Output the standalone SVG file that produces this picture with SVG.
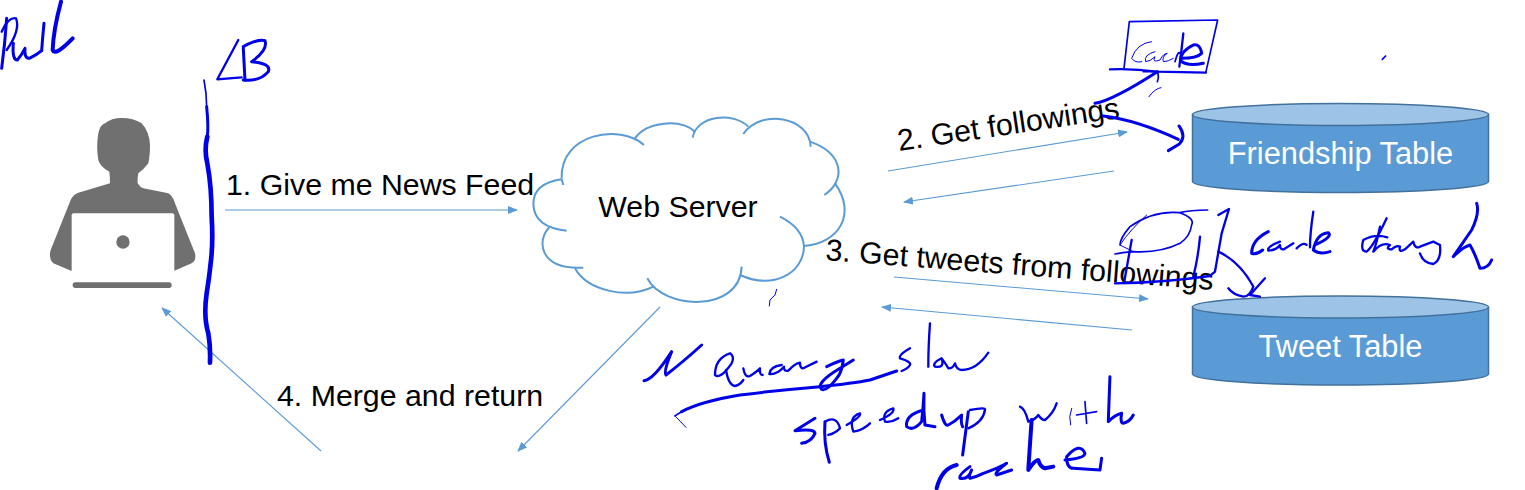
<svg xmlns="http://www.w3.org/2000/svg" width="1525" height="490" viewBox="0 0 1525 490">
<style>
text{font-family:"Liberation Sans",Arial,sans-serif;font-size:30.3px;fill:#000}
.w{fill:#fff;text-anchor:middle;font-size:30.800px}
.c{fill:none;stroke:#5B9BD5;stroke-width:1.1}
.cl{fill:none;stroke:#5B9BD5;stroke-width:6}
.body{fill:#5B9BD5;stroke:#41719C;stroke-width:1.5}
.top{fill:#9DC3E6;stroke:#41719C;stroke-width:1.5}
.h path{fill:none;stroke:#0000E8;stroke-linecap:round;stroke-linejoin:round}
.t1{stroke-width:3}.t2{stroke-width:5}.t3{stroke-width:7}.t4{stroke-width:9}.t5{stroke-width:12}
</style>
<defs>
<marker id="a" markerUnits="userSpaceOnUse" markerWidth="10" markerHeight="8" refX="9" refY="4" orient="auto"><path d="M0 0L10 4L0 8Z" fill="#5B9BD5"/></marker>
</defs>
<rect width="1525" height="490" fill="#fff"/>

<g id="user" transform="scale(.3333)">
<path fill="#707070" d="M365 354Q400 354 425 370Q448 395 450 435Q450 470 445 490Q430 510 415 520Q412 535 413 550Q420 562 430 565L505 580Q520 590 525 610L585 760Q590 780 575 790L523 812H213L160 790Q145 775 152 750L212 600Q218 585 235 578L330 550Q330 530 328 515Q300 500 295 480Q288 440 295 400Q300 375 315 370Q335 354 365 354Z"/>
<path fill="#fff" d="M215 816V646Q215 640 221 640H517Q523 640 523 646V816Z"/>
<circle cx="369" cy="726" r="20" fill="#707070"/>
<rect x="218" y="847" width="297" height="17" rx="8" fill="#707070"/>
</g>

<g id="web-server">
<g transform="translate(520,100) scale(.3333)">
<path class="cl" d="M130 255Q127 245 125 238Q40 250 40 312Q42 382 140 392"/>
<path class="cl" d="M88 382C50 420 55 510 190 503"/>
<path class="cl" d="M165 505C200 570 320 600 400 560"/>
<path class="cl" d="M382 535C430 630 660 640 665 500"/>
<path class="cl" d="M660 525C760 570 850 520 852 440C850 400 820 370 780 350"/>
<path class="cl" d="M850 438C960 430 1010 340 945 250"/>
<path class="cl" d="M913 285C980 240 970 160 870 125"/>
<path class="cl" d="M872 140C870 50 720 25 670 102"/>
<path class="cl" d="M685 80C640 35 530 45 518 113"/>
<path class="cl" d="M525 95C480 55 380 65 345 115"/>
<path class="cl" d="M372 135C300 70 120 100 125 235"/>
</g>
<text x="678" y="217" text-anchor="middle">Web Server</text>
</g>

<g id="friendship-table">
<path class="body" d="M1192.500 114.500V181.500C1192.500 187.500 1259 192.500 1340.500 192.500S1488.500 187.500 1488.500 181.500V114.500Z"/>
<ellipse class="top" cx="1340.500" cy="114.500" rx="148" ry="11"/>
<text class="w" x="1340.500" y="164">Friendship Table</text>
</g>

<g id="tweet-table">
<path class="body" d="M1192.500 307V374C1192.500 380 1259 385 1340.500 385S1488.500 380 1488.500 374V307Z"/>
<ellipse class="top" cx="1340.500" cy="307" rx="148" ry="11"/>
<text class="w" x="1340.500" y="357">Tweet Table</text>
</g>

<g id="connectors">
<path class="c" marker-end="url(#a)" d="M225 210H517"/>
<path class="c" marker-end="url(#a)" d="M888 171L1127 132"/>
<path class="c" marker-end="url(#a)" d="M1114 171L904 202"/>
<path class="c" marker-end="url(#a)" d="M894 277L1148 299"/>
<path class="c" marker-end="url(#a)" d="M1132 330L882 307"/>
<path class="c" marker-end="url(#a)" d="M660 307L518 451"/>
<path class="c" marker-end="url(#a)" d="M321 451L162 308"/>
</g>

<g id="labels">
<text x="226" y="195">1. Give me News Feed</text>
<text x="899" y="151" transform="rotate(-8.500 899 151)">2. Get followings</text>
<text x="825" y="260" transform="rotate(4.400 825 260)">3. Get tweets from followings</text>
<text x="277" y="406">4. Merge and return</text>
</g>

<g id="ink-left" class="h" transform="scale(.3333)">
<path class="t4" d="M20 55Q15 130 5 205"/>
<path class="t3" d="M5 95Q25 50 48 55Q62 90 20 150"/>
<path class="t4" d="M40 130Q36 180 52 180Q65 165 75 145Q72 175 88 175Q110 165 125 152"/>
<path class="t4" d="M132 70Q128 110 125 152"/>
<path class="t5" d="M183 5Q160 90 158 150Q165 170 218 115"/>
<path class="t3" d="M715 120L652 238L725 232"/>
<path class="t4" d="M730 145L735 240"/>
<path class="t4" d="M730 140Q775 115 795 122Q805 150 755 185Q815 190 805 215Q780 245 730 240"/>
<path class="t2" d="M612 240Q620 280 620 320"/>
<path class="t4" d="M620 320Q626 380 622 410"/>
<path class="t5" style="stroke-width:14" d="M622 410Q612 450 622 490Q635 560 635 650Q640 730 632 790Q628 830 620 880Q610 950 625 1000Q632 1040 630 1088"/>
</g>

<g id="ink-top" class="h" transform="translate(1080,0) scale(.3333)">
<path class="t2" d="M150 65L413 60L378 215"/>
<path class="t2" d="M148 65L132 205"/>
<path class="t3" d="M90 208Q160 205 230 215L378 218"/>
<path class="t1" d="M215 125Q170 130 155 175Q165 190 185 185"/>
<path class="t1" d="M225 155Q190 165 197 185Q210 185 225 170Q215 190 240 180Q250 160 262 160Q245 170 250 185Q265 185 280 175"/>
<path class="t3" d="M310 100Q305 150 298 200"/>
<path class="t2" d="M285 185Q295 150 300 160"/>
<path class="t4" d="M305 175Q350 175 365 160Q360 130 340 135Q300 155 302 182Q320 200 370 190"/>
<path class="t4" d="M45 310Q100 300 232 215"/>
<path class="t2" d="M190 215H232Q238 230 232 245"/>
<path class="t1" d="M207 290Q225 265 243 263"/>
<path class="t2" d="M907 178L917 168"/>
<path class="t4" d="M70 348Q170 360 295 418"/>
<path class="t4" d="M297 378Q320 410 298 432L265 452"/>
</g>

<g id="ink-through" class="h" transform="translate(1080,190) scale(.3333)">
<path class="t2" d="M383 60Q330 60 300 68Q345 85 335 105Q330 140 300 160Q240 190 160 185Q125 188 105 192"/>
<path class="t2" d="M300 68Q220 60 150 110Q120 145 120 165"/>
<path class="t1" d="M200 75Q150 120 120 165L160 185"/>
<path class="t3" d="M155 150L132 280H105Q250 278 390 258L405 245L425 130L447 57L415 75"/>
<path class="t3" d="M360 140Q355 200 340 260"/>
<path class="t3" d="M415 185Q480 215 520 290Q510 320 490 320Q460 315 445 295"/>
<path class="t3" d="M555 265L510 315L540 320"/>
<path class="t4" d="M565 125Q515 150 515 190Q530 195 548 180"/>
<path class="t3" d="M600 155Q560 170 565 182Q590 180 600 165Q600 180 612 178L640 160"/>
<path class="t3" d="M700 65Q690 130 690 172"/>
<path class="t3" d="M650 175Q670 155 680 165"/>
<path class="t4" d="M705 165Q760 140 745 128Q710 130 700 180Q720 195 750 185"/>
<path class="t3" d="M920 85Q880 170 860 185Q840 185 850 150Q885 130 922 142"/>
<path class="t3" d="M900 110Q890 160 880 185Q905 155 930 165Q915 178 935 178Q950 165 960 170Q955 190 975 178L1000 155Q1005 178 1020 170L1060 155L1080 165Q1085 210 1060 222Q1030 220 1020 190"/>
<path class="t4" d="M1190 40Q1200 70 1175 120L1120 200Q1150 170 1170 165Q1185 190 1200 235Q1225 235 1235 210"/>
</g>

<g id="ink-bottom" class="h" transform="translate(640,300) scale(.3333)">
<path class="t4" d="M12 242Q40 240 95 155Q70 215 78 225Q130 185 185 135"/>
<path class="t3" d="M270 160Q225 175 225 225Q240 240 275 190Q285 170 270 160"/>
<path class="t3" d="M258 210Q265 255 285 258Q300 255 310 240"/>
<path class="t3" d="M310 205Q315 235 330 228Q350 215 360 205Q358 225 368 225"/>
<path class="t3" d="M425 195Q390 200 388 222Q410 225 432 200Q430 215 445 212Q465 190 480 188Q480 205 490 205Q510 195 530 185"/>
<path class="t4" d="M560 200Q590 185 610 180Q605 220 590 235Q560 275 545 268Q525 250 600 205L640 180"/>
<path class="t4" d="M125 335Q180 305 300 285Q420 270 540 260Q640 250 690 240L770 213"/>
<path class="t2" d="M125 335Q112 342 105 348"/>
<path class="t1" d="M105 348L138 382"/>
<path class="t3" d="M810 145Q775 165 780 175Q815 185 810 195Q805 205 785 213"/>
<path class="t3" d="M870 70Q865 140 865 200"/>
<path class="t3" d="M905 175Q875 190 885 200Q915 205 905 175Q920 195 925 205Q940 205 945 190Q950 210 965 210Q1010 210 1045 158"/>
<path class="t4" d="M525 355L465 392Q525 385 525 400Q515 425 485 430"/>
<path class="t4" d="M555 365Q550 430 568 487"/>
<path class="t3" d="M555 365Q590 345 600 385Q585 400 565 405"/>
<path class="t3" d="M620 375Q665 350 660 340Q625 350 640 395Q670 390 690 370"/>
<path class="t3" d="M720 360Q765 340 760 325Q725 335 735 365Q755 368 775 355"/>
<path class="t4" d="M850 330Q795 345 800 380Q820 395 845 365Q850 320 852 280Q850 330 855 375L885 380"/>
<path class="t4" d="M905 345Q915 380 925 375Q945 365 965 345Q962 370 968 380"/>
<path class="t4" d="M985 335L968 465"/>
<path class="t3" d="M990 330Q1040 320 1035 330Q1030 365 985 385"/>
<path class="t3" d="M1140 320Q1155 325 1165 365Q1185 360 1195 345Q1205 360 1215 360Q1240 340 1250 310"/>
<path class="t1" d="M1295 325Q1285 350 1292 375"/>
<path class="t2" d="M1335 305L1340 370M1310 345L1370 335"/>
<path class="t4" d="M1410 230L1405 365Q1425 345 1445 340Q1440 370 1450 370Q1470 365 1480 345"/>
<path class="t5" d="M950 495Q905 505 890 565"/>
<path class="t4" d="M990 500Q955 525 960 535Q985 540 995 510Q985 530 990 535Q1010 530 1030 520Q1075 505 1100 490Q1060 520 1070 525L1115 510"/>
<path class="t5" d="M1175 360L1165 510Q1185 480 1195 480Q1200 500 1215 505L1240 500"/>
<path class="t4" d="M1275 480Q1335 475 1335 460Q1320 425 1280 470Q1280 505 1300 505L1380 510L1385 475"/>
</g>

<g id="ink-tick" class="h" transform="translate(520,100) scale(.3333)">
<path class="t1" d="M770 568L765 585L750 600L748 618"/>
</g>
</svg>
